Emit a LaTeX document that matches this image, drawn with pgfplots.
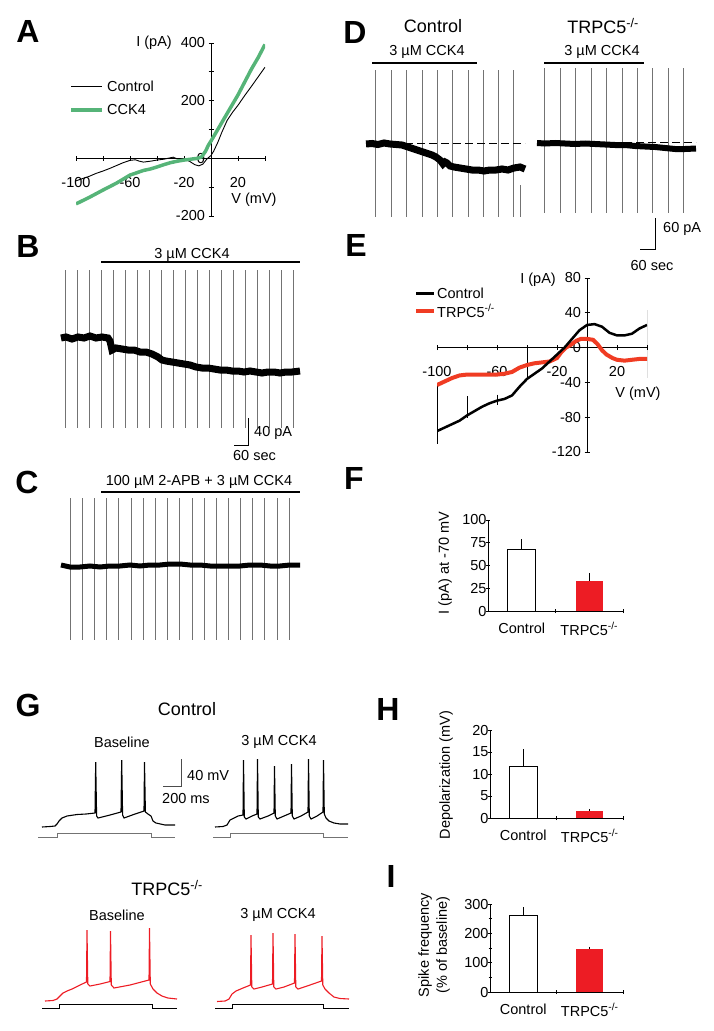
\documentclass[border=0pt]{standalone}
\usepackage{fontspec}
\setmainfont{Liberation Sans}
\usepackage{pgfplots}
\pgfplotsset{compat=1.18}
\definecolor{cckgreen}{RGB}{86,180,120}
\definecolor{ered}{RGB}{240,60,35}
\definecolor{bred}{RGB}{237,28,36}
\newcommand\fs{\fontsize{14.5}{17}\selectfont}
\newcommand\ft{\fontsize{18}{21}\selectfont}
\newcommand\fl{\fontsize{32}{36}\selectfont\bfseries}
\newcommand\ko{\textsuperscript{-/-}}
\pgfplotsset{
  every axis/.append style={scale only axis, enlargelimits=false, font=\fs,
    tick label style={font=\fs}, /pgf/number format/assume math mode=true,
    axis line style={line width=0.8pt}, tick style={black, line width=0.8pt},
    major tick length=5pt, minor tick length=3pt, tick align=outside},
  trace/.style={anchor=south west, hide axis, clip=false, unbounded coords=jump},
  iv/.style={anchor=south west, axis lines=middle, axis line style={-},
    hide obscured y ticks=false, xticklabel style={yshift=-13pt}},
  barax/.style={anchor=south west, xmin=0, xmax=2, ymin=0, axis x line=bottom, axis y line=left,
    axis line style={-}, major tick length=4pt, yticklabel style={xshift=4pt},
    xtick={1,2}, xticklabels={,,}, extra x ticks={0.5,1.5},
    extra x tick labels={Control,TRPC5\ko},
    extra x tick style={major tick length=0pt, xticklabel style={yshift=-8pt}}},
  bwhite/.style={ybar, bar shift=0pt, bar width=28pt, fill=white, draw=black, line width=1pt,
    error bars/.cd, y dir=plus, y explicit, error mark=none, error bar style={draw=black, line width=1pt}},
  bredb/.style={ybar, bar shift=0pt, bar width=27pt, fill=bred, draw=none,
    error bars/.cd, y dir=plus, y explicit, error mark=none, error bar style={draw=black, line width=1pt}},
  artl/.style={black!55, line width=0.7pt},
}
\begin{document}
\begin{tikzpicture}[t/.style={font=\fs, inner sep=0pt}]
\useasboundingbox (0pt,0pt) rectangle (713pt,-1031pt);

% ---------------- Panel A ----------------
\begin{axis}[iv, at={(76pt,-216pt)}, width=189pt, height=173pt,
  xmin=-100, xmax=40, ymin=-200, ymax=400,
  xtick={-100,-80,...,40}, xticklabels={-100,,-60,,-20,,20,},
  ytick={-200,-100,...,400}, yticklabels={-200,,0,,200,,400}]
\addplot[black, line width=0.9pt] coordinates {(-100,-78) (-95,-70) (-90,-62) (-85,-52) (-80,-44) (-75,-35) (-70,-25) (-65,-15) (-60,-7) (-56,-5) (-53,-10) (-50,-13) (-45,-10) (-40,-6) (-35,-3) (-30,2) (-28,4) (-25,-2) (-20,-3) (-16,-10) (-12,-22) (-9,-26) (-6,-20) (-3,-2) (0,10) (2,25) (5,55) (8,90) (12,132) (16,160) (20,184) (25,218) (30,250) (35,283) (40,316)};
\addplot[cckgreen, line width=3.5pt] coordinates {(-100,-158) (-90,-135) (-80,-110) (-70,-86) (-60,-58) (-50,-42) (-45,-37) (-40,-30) (-35,-22) (-30,-15) (-25,-10) (-20,-6) (-15,-3) (-10,0) (-7,5) (-4,25) (-2,45) (0,60) (5,100) (10,140) (15,180) (20,220) (25,265) (30,310) (35,350) (40,395)};
\end{axis}

% ---------------- Panel B ----------------
\begin{axis}[trace, at={(55pt,-440pt)}, width=250pt, height=175pt, xmin=55, xmax=305, ymin=-440, ymax=-265]
\addplot[artl] coordinates {(65,-270) (65,-428) (nan,nan) (77,-270) (77,-428) (nan,nan) (89,-270) (89,-428) (nan,nan) (101,-270) (101,-428) (nan,nan) (113,-270) (113,-428) (nan,nan) (125,-270) (125,-428) (nan,nan) (137,-270) (137,-428) (nan,nan) (149,-270) (149,-428) (nan,nan) (161,-270) (161,-428) (nan,nan) (173,-270) (173,-428) (nan,nan) (185,-270) (185,-428) (nan,nan) (197,-270) (197,-428) (nan,nan) (209,-270) (209,-428) (nan,nan) (221,-270) (221,-428) (nan,nan) (233,-270) (233,-428) (nan,nan) (245,-270) (245,-428) (nan,nan) (257,-270) (257,-428) (nan,nan) (269,-270) (269,-428) (nan,nan) (281,-270) (281,-428) (nan,nan) (293,-270) (293,-428)};
\addplot[black, line width=7pt] coordinates {(61,-338) (66,-337) (72,-339) (78,-337) (84,-338) (90,-336) (96,-338) (102,-337) (108,-338) (110,-341) (112,-350) (116,-348) (122,-349) (128,-350) (134,-350) (140,-352) (146,-352) (152,-354) (158,-357) (162,-360) (166,-361) (172,-362) (178,-363) (184,-364) (190,-365) (196,-367) (202,-368) (208,-368) (214,-369) (220,-370) (226,-370) (232,-371) (238,-371) (244,-372) (250,-371) (256,-372) (262,-373) (268,-372) (274,-372) (280,-373) (286,-372) (292,-372) (300,-371)};
\end{axis}

% ---------------- Panel C ----------------
\begin{axis}[trace, at={(55pt,-645pt)}, width=250pt, height=150pt, xmin=55, xmax=305, ymin=-645, ymax=-495]
\addplot[artl] coordinates {(70,-498) (70,-640) (nan,nan) (82,-498) (82,-640) (nan,nan) (94,-498) (94,-640) (nan,nan) (106,-498) (106,-640) (nan,nan) (118,-498) (118,-640) (nan,nan) (131,-498) (131,-640) (nan,nan) (143,-498) (143,-640) (nan,nan) (155,-498) (155,-640) (nan,nan) (167,-498) (167,-640) (nan,nan) (179,-498) (179,-640) (nan,nan) (192,-498) (192,-640) (nan,nan) (204,-498) (204,-640) (nan,nan) (216,-498) (216,-640) (nan,nan) (228,-498) (228,-640) (nan,nan) (240,-498) (240,-640) (nan,nan) (252,-498) (252,-640) (nan,nan) (264,-498) (264,-640) (nan,nan) (277,-498) (277,-640) (nan,nan) (289,-498) (289,-640)};
\addplot[black, line width=5pt] coordinates {(61,-565) (70,-567) (80,-567) (90,-566) (100,-567) (110,-566) (120,-566) (130,-565) (140,-566) (150,-565) (160,-565) (170,-564) (180,-564) (190,-565) (200,-565) (210,-566) (220,-566) (230,-566) (240,-566) (250,-565) (260,-565) (270,-566) (280,-566) (290,-565) (300,-565)};
\end{axis}

% ---------------- Panel D ----------------
\begin{axis}[trace, at={(360pt,-220pt)}, width=340pt, height=155pt, xmin=360, xmax=700, ymin=-220, ymax=-65]
\addplot[artl] coordinates {(375,-70) (375,-217) (nan,nan) (391,-70) (391,-217) (nan,nan) (406,-70) (406,-217) (nan,nan) (422,-70) (422,-217) (nan,nan) (437,-70) (437,-217) (nan,nan) (452,-70) (452,-217) (nan,nan) (468,-70) (468,-217) (nan,nan) (483,-70) (483,-217) (nan,nan) (498,-70) (498,-217) (nan,nan) (513,-70) (513,-217) (nan,nan) (520,-185) (520,-217)};
\addplot[artl] coordinates {(544,-68) (544,-213) (nan,nan) (560,-68) (560,-213) (nan,nan) (575,-68) (575,-213) (nan,nan) (591,-68) (591,-213) (nan,nan) (606,-68) (606,-213) (nan,nan) (622,-68) (622,-213) (nan,nan) (637,-68) (637,-213) (nan,nan) (652,-68) (652,-213) (nan,nan) (668,-68) (668,-213) (nan,nan) (683,-68) (683,-213)};
\addplot[black, line width=1pt, dash pattern=on 8pt off 4pt] coordinates {(405,-143) (525,-143)};
\addplot[black, line width=1pt, dash pattern=on 8pt off 4pt] coordinates {(600,-142) (696,-142)};
\addplot[black, line width=7pt] coordinates {(366,-144) (372,-143.5) (378,-144.5) (384,-143) (390,-144) (396,-144.5) (402,-145) (408,-147) (414,-149) (420,-151) (426,-153) (432,-155) (436,-157) (440,-160) (443,-164) (445,-162) (447,-163) (450,-166) (454,-167) (460,-168) (466,-169) (472,-170) (478,-170) (484,-171) (490,-170) (496,-170) (502,-169) (508,-170) (514,-168) (520,-167) (525,-169)};
\addplot[black, line width=6pt] coordinates {(537,-143) (545,-143.5) (555,-143) (565,-143.5) (575,-144) (585,-143.5) (595,-144) (605,-144.5) (615,-145) (625,-145) (635,-146) (645,-146.5) (655,-147) (665,-148) (675,-149) (685,-149) (696,-148.5)};
\end{axis}

% ---------------- Panel E ----------------
\begin{axis}[iv, at={(437pt,-452pt)}, width=210pt, height=174pt,
  xmin=-100, xmax=40, ymin=-120, ymax=80,
  xtick={-100,-80,...,40}, xticklabels={-100,,-60,,-20,,20,},
  ytick={-120,-80,...,80}, yticklabels={-120,-80,-40,0,40,80}]
\addplot[black, line width=1pt, unbounded coords=jump] coordinates {(-100,-41) (-100,-111) (nan,nan) (-80,-56) (-80,-81) (nan,nan) (-60,-54) (-60,-66) (nan,nan) (-40,0) (-40,-37) (nan,nan) (40,43) (40,-35)};
\addplot[ered, line width=4pt] coordinates {(-100,-43) (-95,-39) (-90,-35) (-85,-32) (-80,-31) (-70,-31) (-60,-31) (-55,-30) (-50,-28) (-45,-23) (-40,-20) (-35,-18) (-30,-17) (-25,-16) (-20,-12) (-17,-5) (-14,0) (-11,3) (-7,8) (-4,10) (0,10) (4,9) (7,4) (10,-3) (13,-8) (17,-12) (20,-14) (25,-15) (30,-14) (35,-13) (40,-13)};
\addplot[black, line width=2.5pt] coordinates {(-100,-96) (-95,-92) (-90,-88) (-85,-84) (-80,-78) (-75,-73) (-70,-68) (-65,-64) (-60,-61) (-55,-59) (-50,-55) (-45,-45) (-40,-36) (-35,-30) (-30,-24) (-25,-16) (-20,-8) (-15,0) (-10,10) (-5,20) (0,26) (5,27) (10,24) (15,17) (20,14) (25,14) (30,16) (35,22) (40,26)};
\end{axis}

% ---------------- Panel F ----------------
\begin{axis}[barax, at={(488pt,-611pt)}, width=135pt, height=91pt, ymax=100, ytick={0,25,50,75,100}]
\addplot[bwhite] coordinates {(0.5,68) +- (0,11)};
\addplot[bredb] coordinates {(1.5,33) +- (0,9)};
\end{axis}

% ---------------- Panel G ----------------
\begin{axis}[trace, at={(30pt,-1015pt)}, width=325pt, height=265pt, xmin=30, xmax=355, ymin=-1015, ymax=-750]
\addplot[black!55, line width=1pt] coordinates {(38,-837) (57,-837) (57,-833) (151,-833) (151,-837) (175,-837)};
\addplot[black!55, line width=1pt] coordinates {(213,-837) (230,-837) (230,-833) (323,-833) (323,-837) (348,-837)};
\addplot[black, line width=1pt] coordinates {(42,-1008) (59,-1008) (59,-1004) (152,-1004) (152,-1008) (177,-1008)};
\addplot[black, line width=1pt] coordinates {(215,-1008) (232,-1008) (232,-1004) (323,-1004) (323,-1008) (349,-1008)};
\addplot[black, line width=1.1pt] coordinates {(42,-827) (50,-826.5) (55,-826) (57,-824) (59,-821) (62,-818) (67,-816) (77,-814.5) (86,-814) (95,-813) (95.7,-762) (96.6,-816) (98,-818) (110,-815) (121,-812) (121.7,-760) (122.6,-815) (124,-818) (135,-814) (144,-811) (144.5,-762) (145.4,-812) (148,-814) (151,-816) (153,-821) (156,-823) (165,-825) (175,-825)};
\addplot[black, line width=1.1pt] coordinates {(215,-827) (223,-826.5) (227,-825) (230,-820) (234,-818) (238,-816) (243,-815) (243.5,-760) (244.3,-817) (246,-819) (252,-816) (257,-814) (257.5,-759) (258.3,-817) (260,-819) (268,-816) (274,-813) (274.5,-766) (275.3,-816) (277,-819) (284,-816) (291,-813) (291.5,-764) (292.3,-816) (294,-819) (301,-816) (308,-812) (308.5,-759) (309.3,-816) (311,-819) (317,-816) (323,-812) (323.5,-760) (324.3,-814) (326,-818) (329,-821) (334,-823) (340,-824) (348,-824)};
\addplot[bred, line width=1.1pt] coordinates {(45,-1001) (53,-1000.5) (57,-999) (60,-996) (63,-993) (67,-991) (72,-989) (80,-985) (86.5,-982) (87,-930) (87.8,-984) (90,-986) (100,-984) (110,-981.5) (110.5,-931) (111.3,-985) (114,-988) (130,-985) (149,-980) (149.5,-928) (150.3,-984) (153,-989) (157,-993) (162,-996) (168,-998) (177,-999)};
\addplot[bred, line width=1.1pt] coordinates {(217,-1001.5) (225,-1001) (229,-999) (232,-994) (236,-991) (243,-988) (250.5,-985) (251,-935) (251.8,-987) (254,-989) (262,-987) (272.5,-984) (273,-933) (273.8,-987) (276,-989) (284,-987) (294.5,-983) (295,-934) (295.8,-987) (298,-989) (310,-985) (321.5,-981) (322,-936) (322.8,-985) (325,-989) (329,-993) (334,-997) (340,-998.5) (349,-999)};
\end{axis}

% ---------------- Panel H ----------------
\begin{axis}[barax, at={(490pt,-818pt)}, width=133pt, height=88pt, ymax=20, ytick={0,5,10,15,20}]
\addplot[bwhite] coordinates {(0.5,11.7) +- (0,3.9)};
\addplot[bredb] coordinates {(1.5,1.6) +- (0,0.5)};
\end{axis}

% ---------------- Panel I ----------------
\begin{axis}[barax, at={(490pt,-992pt)}, width=133pt, height=88pt, ymax=300, ytick={0,100,200,300}, minor y tick num=1]
\addplot[bwhite] coordinates {(0.5,262) +- (0,27)};
\addplot[bredb] coordinates {(1.5,148) +- (0,7)};
\end{axis}

\begin{scope}[x=1pt,y=1pt]
% A texts
\node[t, anchor=east] at (172,-43) {I (pA)};
\node[t] at (254,-200) {V (mV)};
\draw[black, line width=0.9pt] (71,-86)--(102,-86);
\node[t, anchor=west] at (107,-86) {Control};
\draw[cckgreen, line width=3.5pt] (71,-110)--(102,-110);
\node[t, anchor=west] at (107,-110) {CCK4};
% B texts
\node[t] at (192,-255) {3 µM CCK4};
\draw[line width=1.2pt] (101,-262)--(300,-262);
\draw[line width=1pt] (248,-418)--(248,-445)--(234,-445);
\node[t, anchor=west] at (254,-433) {40 pA};
\node[t] at (254.5,-456) {60 sec};
% C texts
\node[t] at (199,-482) {100 µM 2-APB + 3 µM CCK4};
\draw[line width=1.2pt] (101,-492)--(300,-492);
% D texts
\node[t, font=\ft] at (433,-26) {Control};
\node[t, font=\ft] at (603,-26) {TRPC5\ko};
\node[t] at (427,-52) {3 µM CCK4};
\node[t] at (602,-52) {3 µM CCK4};
\draw[line width=1.2pt] (372,-63)--(477,-63);
\draw[line width=1.2pt] (544,-63)--(644,-63);
\draw[line width=1pt] (655,-218)--(655,-249)--(640,-249);
\node[t, anchor=west] at (663,-229) {60 pA};
\node[t] at (652,-266) {60 sec};
% E texts
\node[t, anchor=east] at (556,-280) {I (pA)};
\node[t] at (638,-394) {V (mV)};
\draw[black, line width=3pt] (416,-293)--(434,-293);
\node[t, anchor=west] at (437,-293) {Control};
\draw[ered, line width=4pt] (416,-311)--(434,-311);
\node[t, anchor=west] at (437,-311) {TRPC5\ko};
% F, H, I labels
\node[t, rotate=90] at (445,-563) {I (pA) at -70 mV};
\node[t, rotate=90] at (446,-775) {Depolarization (mV)};
\node[t, rotate=90, align=center, font=\fontsize{14.5}{18}\selectfont] at (434,-945) {Spike frequency\\(\% of baseline)};
% G texts
\node[t, font=\ft] at (187,-709) {Control};
\node[t] at (122,-742) {Baseline};
\node[t] at (279,-742) {3 µM CCK4};
\draw[black!70, line width=1pt] (181,-759)--(181,-786)--(163,-786);
\node[t, anchor=west] at (187,-775) {40 mV};
\node[t, anchor=west] at (162,-798) {200 ms};
\node[t, font=\ft] at (167,-888) {TRPC5\ko};
\node[t] at (117,-915) {Baseline};
\node[t] at (278,-915) {3 µM CCK4};
% Panel letters
\node[t, font=\fl] at (28,-31) {A};
\node[t, font=\fl] at (28,-246) {B};
\node[t, font=\fl] at (27,-482) {C};
\node[t, font=\fl] at (355,-32) {D};
\node[t, font=\fl] at (356,-245) {E};
\node[t, font=\fl] at (354,-478) {F};
\node[t, font=\fl] at (28,-705) {G};
\node[t, font=\fl] at (388,-709) {H};
\node[t, font=\fl] at (391,-876) {I};
\end{scope}
\end{tikzpicture}
\end{document}
